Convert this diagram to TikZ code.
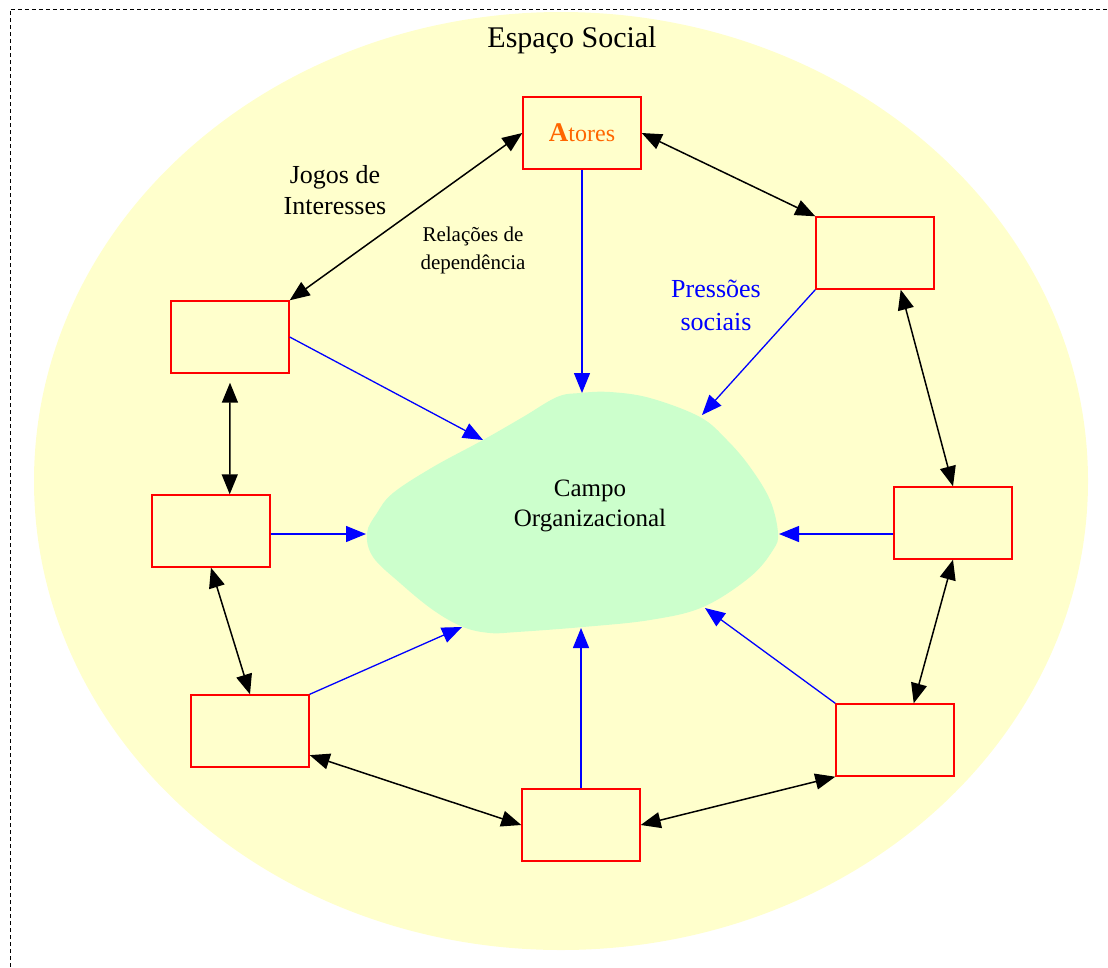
\documentclass[tikz,border=0pt]{standalone}
\usepackage{fontspec}
\setmainfont{Liberation Serif}
\usepackage{xcolor}
\usetikzlibrary{arrows.meta}
\definecolor{espaco}{HTML}{FFFFCC}
\definecolor{campo}{HTML}{CCFFCC}
\definecolor{atorcor}{HTML}{FF6600}
\tikzset{
  % box round the ellipse
  caixa/.style={
    draw=red, line width=1.4pt,
    minimum width=118pt, minimum height=72pt,
    inner sep=0pt
  },
  % game arrow style
  garr/.style={
    line width=1.5pt,
    {Triangle[length=20pt,width=16pt]}-{Triangle[length=20pt,width=16pt]}
  },
  % pressure arrow style
  parr/.style={
    blue, line width=1.3pt,
    -{Triangle[length=20pt,width=16pt]}
  },
}

\begin{document}
\begin{tikzpicture}[x=1pt,y=-1pt
                   ,txt/.style={align=center,inner sep=0pt}
                   ]
  \useasboundingbox (0,0) rectangle (1108,967);
  \draw[dash pattern=on 4pt off 3pt, line width=0.8pt] (10,967) -- (10,9) -- (1108,9);

  \fill[espaco] (561,481) ellipse [x radius=527, y radius=469];

  \fill[campo] plot[smooth cycle, tension=0.6] coordinates {
    (580,393) (610,392) (650,398) (700,417) (727,440) (750,467)
    (770,500) (778,533) (773,550) (750,577) (703,607) (650,620)
    (583,627) (517,632) (490,633) (463,627) (433,610) (400,583)
    (373,557) (367,533) (377,513) (393,493) (433,467) (483,440)
    (523,417) (557,397)};

  \node (titulo) [txt, font=\fontsize{30}{32}\selectfont] at (572,40) {Espaço Social};
  \node (campotxt) [txt, font=\fontsize{25}{30}\selectfont] at (590,506)
        {Campo\\Organizacional};

  \node (atores) [caixa, font=\fontsize{24}{26}\selectfont, text=atorcor] at (582,133)
        {\textbf{\fontsize{27}{27}\selectfont A}tores};
  \node (b1) [caixa] at (875,253) {};
  \node (b2) [caixa] at (953,523) {};
  \node (b3) [caixa] at (895,740) {};
  \node (b4) [caixa] at (581,825) {};
  \node (b5) [caixa] at (250,731) {};
  \node (b6) [caixa] at (211,531) {};
  \node (b7) [caixa] at (230,337) {};

  \node (jogos) [txt, font=\fontsize{26}{31}\selectfont] at (335,190)
        {Jogos de\\Interesses};
  \node (relacoes) [txt, font=\fontsize{21}{28}\selectfont] at (473,250)
        {Relações de\\dependência};
  \node (pressoes) [txt, font=\fontsize{26}{33}\selectfont, text=blue] at (716,305)
        {Pressões\\sociais};

  % points on the edge of the field
  \coordinate (c1) at (582,393);
  \coordinate (c2) at (702,415);
  \coordinate (c3) at (779,534);
  \coordinate (c4) at (705,608);
  \coordinate (c5) at (581,628);
  \coordinate (c6) at (462,627);
  \coordinate (c7) at (366,534);
  \coordinate (c8) at (483,440);

  \draw[garr] (atores.west) -- (b7.north east);
  \draw[garr] (atores.east) -- (b1.north west);
  \draw[garr] (b1.-55) -- (b2.north);
  \draw[garr] (b2.south) -- (b3.63);
  \draw[garr] (b3.south west) -- (b4.east);
  \draw[garr] (b4.west) -- (b5.-22);
  \draw[garr] (b5.north) -- (b6.south);
  \draw[garr] (b6.63) -- ([yshift=-9pt]b7.south);

  \draw[parr] (atores.south) -- (c1);
  \draw[parr] (b1.south west) -- (c2);
  \draw[parr] (b2.west |- c3) -- (c3);
  \draw[parr] (b3.north west) -- (c4);
  \draw[parr] (b4.north) -- (c5);
  \draw[parr] (b5.north east) -- (c6);
  \draw[parr] (b6.east |- c7) -- (c7);
  \draw[parr] (b7.east) -- (c8);
\end{tikzpicture}
\end{document}
